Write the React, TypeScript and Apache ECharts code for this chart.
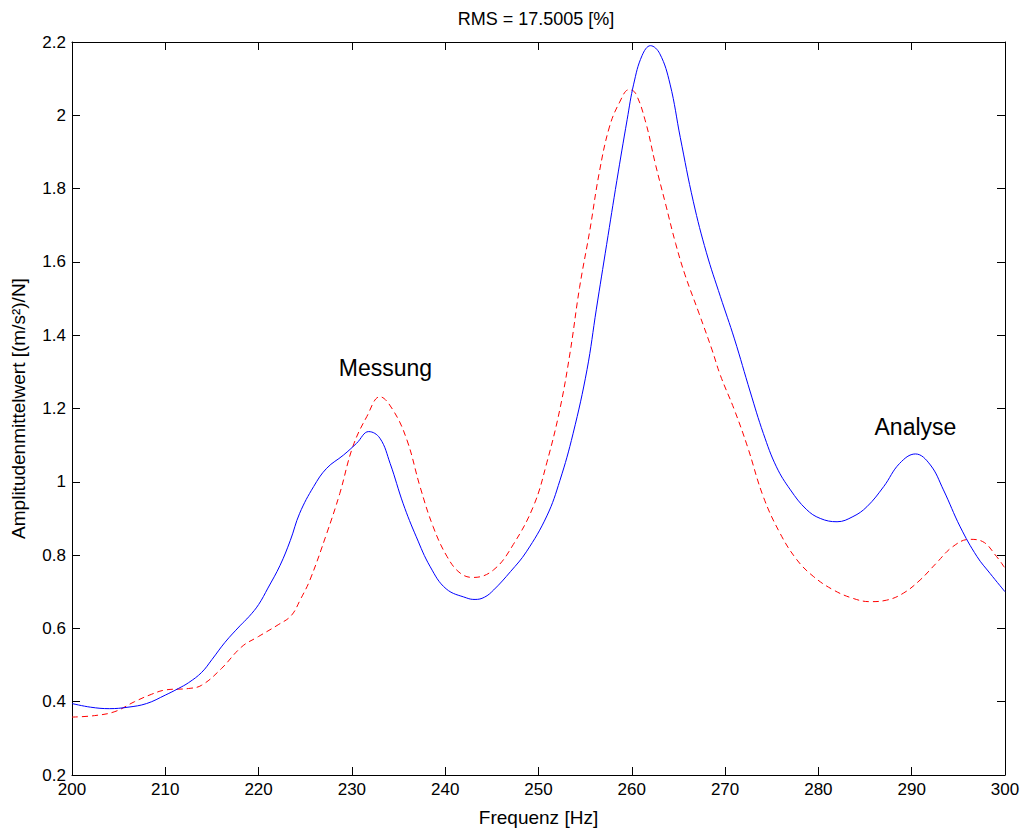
import React, { useEffect, useRef } from "react";
import * as echarts from "echarts";

const titleText = "RMS = 17.5005 [%]";
const xName = "Frequenz [Hz]";
const yName = "Amplitudenmittelwert [(m/s²)/N]";

// Analyse (solid blue)
const blueFreq = [
  200, 202, 204, 206, 208, 210, 211.4, 212.5, 213.9, 215, 216.4, 218, 219, 220, 221, 222.3, 223.4, 224.4, 225.9,
  227.3, 229.1, 230.5, 231.8, 233.0, 234.1, 235.5, 236.9, 238.4, 240.1, 242.3, 243.2, 244.2, 245.2, 247, 248.7, 250.9,
  252.3, 253.7, 255.2, 256.2, 257.3, 258.4, 259.5, 260.2, 261.1, 262.0, 263.0, 264.1, 265.2, 266.6, 268.0, 269.5,
  271.0, 272.7, 274.1, 275.5, 277.0, 278.7, 280.2, 282.0, 283.7, 285.2, 287.0, 288.7, 290.4, 292.0, 293.4, 295.2,
  297.0, 298.4, 300,
];
const blueVal = [
  0.395, 0.385, 0.381, 0.385, 0.395, 0.418, 0.436, 0.452, 0.48, 0.515, 0.562, 0.607, 0.633, 0.665, 0.71, 0.772, 0.84,
  0.914, 0.987, 1.037, 1.073, 1.105, 1.137, 1.119, 1.05, 0.94, 0.85, 0.768, 0.708, 0.683, 0.679, 0.685, 0.705, 0.755,
  0.809, 0.907, 1.004, 1.131, 1.306, 1.471, 1.647, 1.822, 1.988, 2.085, 2.163, 2.19, 2.168, 2.085, 1.939, 1.764,
  1.625, 1.505, 1.39, 1.245, 1.132, 1.041, 0.978, 0.925, 0.9, 0.891, 0.905, 0.932, 0.987, 1.05, 1.076, 1.046,
  0.978, 0.877, 0.796, 0.75, 0.7,
];

// Messung (dashed red)
const redFreq = [
  200, 202.4, 204.6, 206.7, 208.5, 210, 212.5, 213.9, 216, 218.2, 220, 222.1, 223.5, 224.5, 225.5, 227.3, 228.7,
  230.1, 231.6, 233.0, 234.4, 235.9, 237.3, 238.7, 240.2, 241.6, 243.0, 245.2, 247.3, 249.5, 250.9, 252.3, 253.4,
  254.4, 255.5, 256.5, 257.6, 258.7, 259.7, 260.4, 261.5, 262.5, 263.6, 264.7, 265.7, 267.2, 268.6, 269.5, 271.0,
  272.4, 274.1, 275.9, 277.7, 279.5, 281.6, 283.7, 285.5, 287.3, 289.1, 290.9, 292.6, 294.4, 296.2, 297.6, 299.1,
  300,
];
const redVal = [
  0.358, 0.362, 0.373, 0.4, 0.42, 0.432, 0.436, 0.445, 0.49, 0.55, 0.578, 0.61, 0.635, 0.68, 0.732, 0.859, 0.968,
  1.096, 1.178, 1.232, 1.196, 1.114, 0.987, 0.878, 0.796, 0.751, 0.739, 0.76, 0.829, 0.936, 1.053, 1.199, 1.355,
  1.53, 1.686, 1.842, 1.968, 2.036, 2.07, 2.06, 1.98, 1.87, 1.76, 1.65, 1.565, 1.46, 1.36, 1.29, 1.196, 1.096,
  0.959, 0.859, 0.787, 0.741, 0.705, 0.682, 0.673, 0.677, 0.696, 0.732, 0.777, 0.823, 0.843, 0.837, 0.796, 0.764,
];

const annotations = [
  { text: "Messung", f: 233.6, v: 1.31 },
  { text: "Analyse", f: 290.4, v: 1.15 },
];

const FONT = "'Liberation Sans', Arial, Helvetica, sans-serif";

export default function App() {
  const ref = useRef<HTMLDivElement>(null);
  useEffect(() => {
    if (!ref.current) return;
    const chart = echarts.init(ref.current, null, { renderer: "svg" });
    const blue = blueFreq.map((f, i) => [f, blueVal[i]]);
    const red = redFreq.map((f, i) => [f, redVal[i]]);
    const tickFmt = (v: number) => String(parseFloat(v.toFixed(1)));
    const axisCommon = {
      axisLine: { show: true, lineStyle: { color: "#000", width: 1 } },
      axisTick: { show: true, inside: true, length: 8, lineStyle: { color: "#000" } },
      splitLine: { show: false },
    };
    chart.setOption({
      animation: false,
      backgroundColor: "#fff",
      title: {
        text: titleText,
        left: 531,
        textAlign: "center",
        top: 5,
        textStyle: { fontFamily: FONT, fontSize: 18, fontWeight: "normal", color: "#000" },
      },
      grid: { left: 72, right: 22, top: 42, bottom: 59, containLabel: false },
      xAxis: [
        {
          type: "value",
          min: 200,
          max: 300,
          interval: 10,
          position: "bottom",
          name: xName,
          nameLocation: "middle",
          nameGap: 33,
          nameTextStyle: { fontFamily: FONT, fontSize: 19, color: "#000" },
          axisLabel: { fontFamily: FONT, fontSize: 17, color: "#000", margin: 6 },
          ...axisCommon,
        },
        {
          type: "value",
          min: 200,
          max: 300,
          interval: 10,
          position: "top",
          axisLabel: { show: false },
          ...axisCommon,
        },
      ],
      yAxis: [
        {
          type: "value",
          min: 0.2,
          max: 2.2,
          interval: 0.2,
          position: "left",
          name: yName,
          nameLocation: "middle",
          nameGap: 44,
          nameTextStyle: { fontFamily: FONT, fontSize: 19, color: "#000" },
          axisLabel: { fontFamily: FONT, fontSize: 17, color: "#000", margin: 6, formatter: tickFmt },
          ...axisCommon,
        },
        {
          type: "value",
          min: 0.2,
          max: 2.2,
          interval: 0.2,
          position: "right",
          axisLabel: { show: false },
          ...axisCommon,
        },
      ],
      series: [
        {
          type: "line",
          name: "Analyse",
          data: blue,
          showSymbol: false,
          smooth: 0.4,
          lineStyle: { color: "#0000ff", width: 1 },
          itemStyle: { color: "#0000ff" },
          z: 3,
        },
        {
          type: "line",
          name: "Messung",
          data: red,
          showSymbol: false,
          smooth: 0.4,
          lineStyle: { color: "#ff0000", width: 1, type: [6, 4] },
          itemStyle: { color: "#ff0000" },
          z: 2,
        },
      ],
    });
    const graphics = annotations.map((a) => {
      const p = chart.convertToPixel({ gridIndex: 0 }, [a.f, a.v]) as number[];
      return {
        type: "text",
        x: p[0],
        y: p[1],
        style: {
          text: a.text,
          fontFamily: FONT,
          fontSize: 23,
          fill: "#000",
          textAlign: "center",
          textVerticalAlign: "middle",
        },
      };
    });
    chart.setOption({ graphic: graphics });
    return () => chart.dispose();
  }, []);
  return <div ref={ref} style={{ position: "absolute", left: 0, top: 0, width: 1027, height: 834 }} />;
}
